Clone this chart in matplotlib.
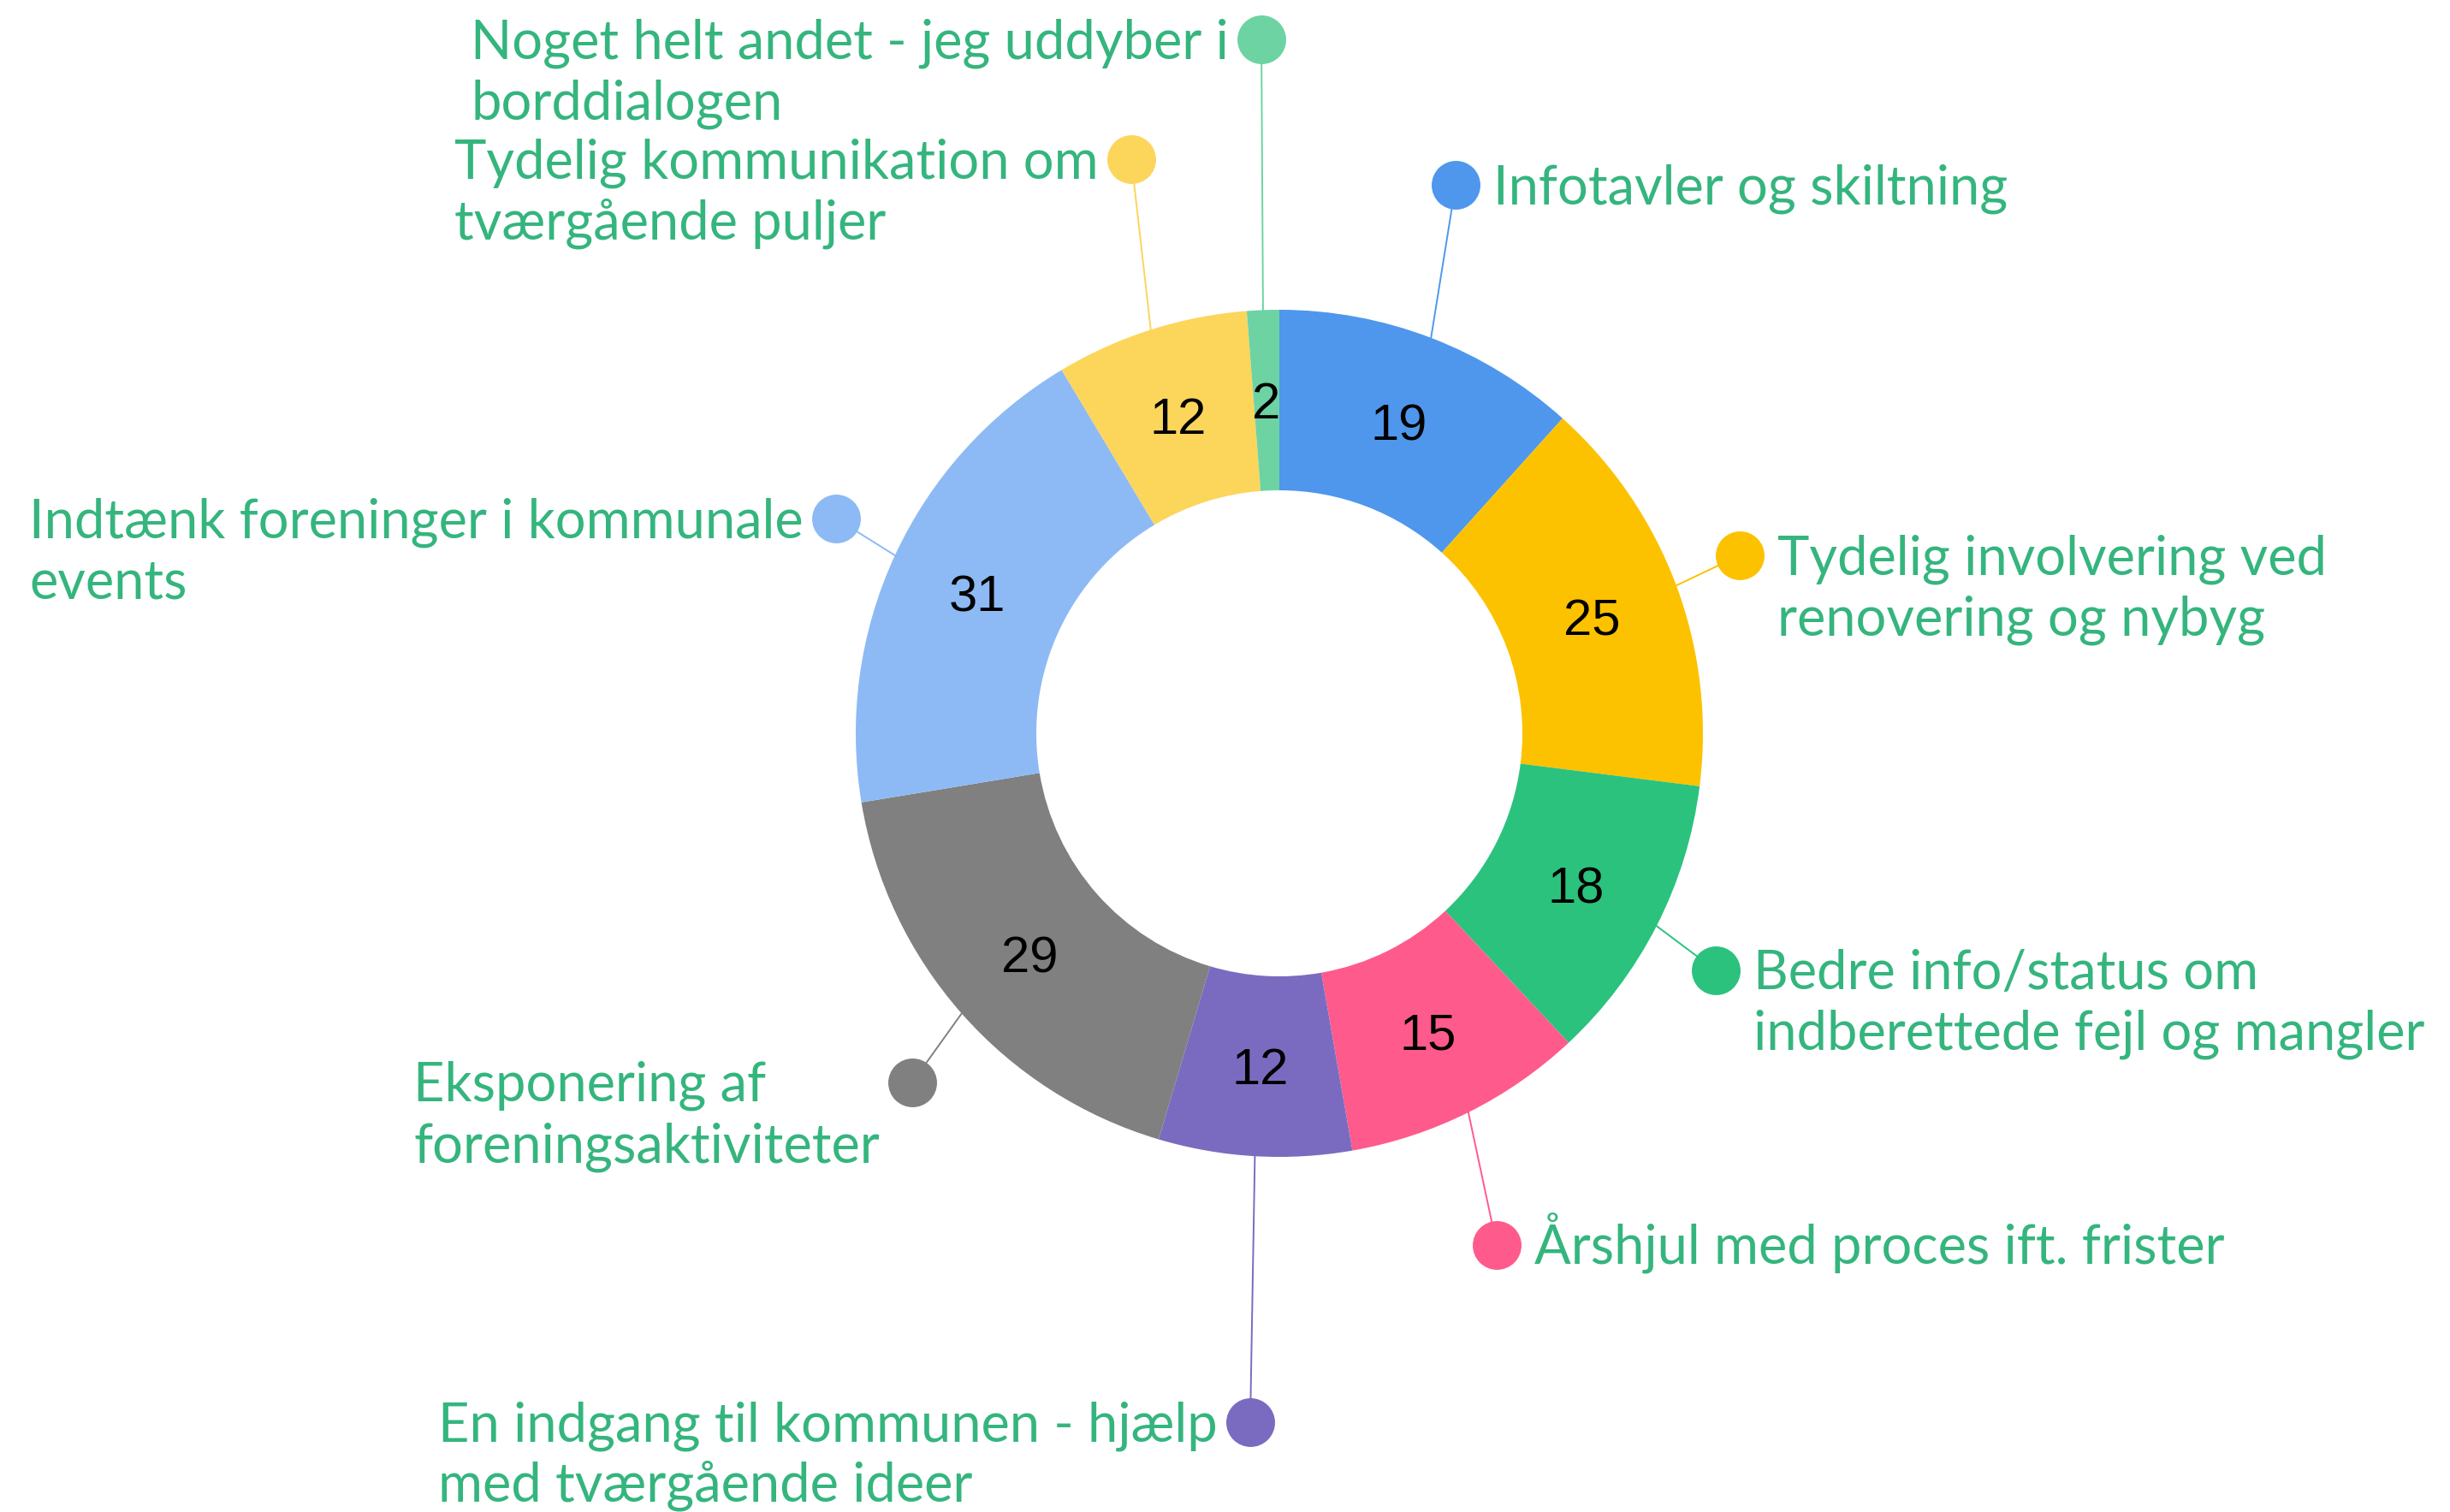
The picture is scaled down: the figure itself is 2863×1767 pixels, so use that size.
import matplotlib
matplotlib.use("Agg")
import matplotlib.pyplot as plt
import numpy as np

# ---------------- data ----------------
categories = [
    "Infotavler og skiltning",
    "Tydelig involvering ved renovering og nybyg",
    "Bedre info/status om indberettede fejl og mangler",
    "Årshjul med proces ift. frister",
    "En indgang til kommunen - hjælp med tværgående ideer",
    "Eksponering af foreningsaktiviteter",
    "Indtænk foreninger i kommunale events",
    "Tydelig kommunikation om tværgående puljer",
    "Noget helt andet - jeg uddyber i borddialogen",
]
values = [19, 25, 18, 15, 12, 29, 31, 12, 2]
label_lines = [
    ["Infotavler og skiltning"],
    ["Tydelig involvering ved", "renovering og nybyg"],
    ["Bedre info/status om", "indberettede fejl og mangler"],
    ["Årshjul med proces ift. frister"],
    ["En indgang til kommunen - hjælp", "med tværgående ideer"],
    ["Eksponering af", "foreningsaktiviteter"],
    ["Indtænk foreninger i kommunale", "events"],
    ["Tydelig kommunikation om", "tværgående puljer"],
    ["Noget helt andet - jeg uddyber i", "borddialogen"],
]

# ---------------- style / layout ----------------
colors = ["#4F97EC", "#FCC200", "#2BC27D", "#FF5A8C", "#7B6BC0",
          "#808080", "#8DBAF4", "#FCD55B", "#6DD3A3"]
label_color = "#35B57E"
W, H = 2863, 1767
cx, cy = 1495, 857          # screen px (y down)
R_out, ring_w = 495, 211
# dot positions in screen px (y down) and side of text
dot_pos = [(1701, 216), (2033, 649), (2005, 1134), (1749, 1455), (1461, 1662),
           (1066, 1265), (977, 606), (1322, 186), (1474, 46)]
sides = ["right", "right", "right", "right", "left", "left", "left", "left", "left"]

LABEL_FONT = ["Lato", "DejaVu Sans"]
LABEL_SIZE = 45.5
NUM_FONT = ["Liberation Sans", "DejaVu Sans"]
NUM_SIZE = 43
LINE_STEP = 71

def Y(y):
    return H - y

fig = plt.figure(figsize=(W / 100, H / 100), dpi=100)
ax = fig.add_axes([0, 0, 1, 1])

wedges, _ = ax.pie(values, colors=colors, startangle=90, counterclock=False,
                   radius=R_out, center=(cx, Y(cy)),
                   wedgeprops=dict(width=ring_w, linewidth=0, antialiased=True))
ax.set_xlim(0, W)
ax.set_ylim(0, H)
ax.set_aspect("equal")
ax.axis("off")

r_mid = R_out - ring_w / 2
num_half_cap = 0.716 * NUM_SIZE * 100 / 72 / 2
for w, v, col, (dx, dy) in zip(wedges, values, colors, dot_pos):
    th = np.deg2rad((w.theta1 + w.theta2) / 2)
    # number inside ring (digits visually centred on the ring midline)
    ax.text(cx + r_mid * np.cos(th), Y(cy) + r_mid * np.sin(th) - num_half_cap, str(v),
            ha="center", va="baseline", fontsize=NUM_SIZE, family=NUM_FONT, color="black")
    # leader line + dot
    sx, sy = cx + R_out * np.cos(th), Y(cy) + R_out * np.sin(th)
    ax.plot([sx, dx], [sy, Y(dy)], color=col, lw=1.4, solid_capstyle="round", zorder=3)
    ax.plot([dx], [Y(dy)], marker="o", markersize=41, color=col, markeredgewidth=0, zorder=4)

fig.canvas.draw()
renderer = fig.canvas.get_renderer()

for (dx, dy), side, lines in zip(dot_pos, sides, label_lines):
    base = dy + 22
    if side == "right":
        x0 = dx + 44
        for i, ln in enumerate(lines):
            ax.text(x0, Y(base + i * LINE_STEP), ln, ha="left", va="baseline",
                    fontsize=LABEL_SIZE, family=LABEL_FONT, color=label_color)
    else:
        texts = []
        for i, ln in enumerate(lines):
            t = ax.text(0, Y(base + i * LINE_STEP), ln, ha="left", va="baseline",
                        fontsize=LABEL_SIZE, family=LABEL_FONT, color=label_color)
            texts.append(t)
        widths = [t.get_window_extent(renderer).width for t in texts]
        x_left = dx - 38 - max(widths)
        for t in texts:
            t.set_x(x_left)

fig.savefig("out.png", dpi=100, facecolor="white")
